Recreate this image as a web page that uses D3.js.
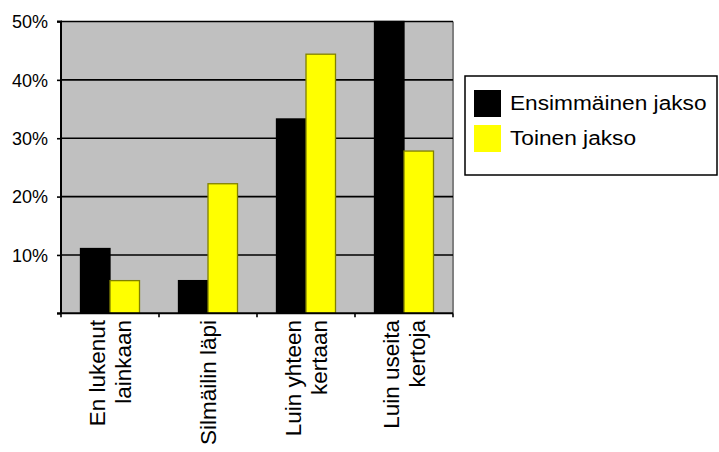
<!DOCTYPE html>
<html><head><meta charset="utf-8">
<script src="https://cdn.jsdelivr.net/npm/d3@7"></script>
<style>body{margin:0;background:#fff}svg{display:block}text{font-family:"Liberation Sans",Arial,sans-serif;fill:#000}</style>
</head><body>
<script>
const categories = [["En lukenut","lainkaan"],["Silmäilin läpi"],["Luin yhteen","kertaan"],["Luin useita","kertoja"]];
const seriesNames = ["Ensimmäinen jakso","Toinen jakso"];
const series1 = [11.1, 5.6, 33.3, 50.0];
const series2 = [5.6, 22.2, 44.4, 27.8];
const yTicks = [10, 20, 30, 40, 50];
const colors = ["#000000","#ffff00"];
const strokes = ["#000000","#808000"];

const W=719,H=452;
const svg=d3.select("body").append("svg").attr("width",W).attr("height",H);
const L=61,R=453,T=21.5,B=313.3;
const x0=d3.scaleBand().domain(d3.range(categories.length)).range([L,R]).padding(0);
const x1=d3.scaleBand().domain([0,1]).range([19.5,x0.bandwidth()-19.5]).padding(0);
const y=d3.scaleLinear().domain([0,50]).range([B,T]);

svg.append("rect").attr("x",L).attr("y",T).attr("width",R-L).attr("height",B-T).attr("fill","#c0c0c0");
svg.append("line").attr("x1",R).attr("x2",R).attr("y1",T).attr("y2",B).attr("stroke","#808080").attr("stroke-width",2);
svg.append("g").selectAll("line").data(yTicks).join("line")
  .attr("x1",L).attr("x2",R).attr("y1",d=>y(d)).attr("y2",d=>y(d))
  .attr("stroke","#000").attr("stroke-width",1.6);

const data=categories.map((c,i)=>[series1[i],series2[i]]);
const g=svg.append("g");
data.forEach((vals,i)=>{
  vals.forEach((v,j)=>{
    g.append("rect").attr("x",x0(i)+x1(j)).attr("y",y(v)).attr("width",x1.bandwidth()).attr("height",B-y(v))
      .attr("fill",colors[j]).attr("stroke",strokes[j]).attr("stroke-width",1.3);
  });
});

const yAxis=d3.axisLeft(y).tickValues([0].concat(yTicks)).tickSize(4).tickFormat(d=>d===0?"":d+"%");
const ya=svg.append("g").attr("transform",`translate(${L},0)`).call(yAxis);
ya.select(".domain").attr("stroke","#000").attr("stroke-width",2).attr("d",`M-4,${T}H0V${B}`);
ya.selectAll(".tick line").attr("stroke","#000").attr("stroke-width",1.6);
ya.selectAll(".tick text").attr("font-size",18).attr("x",-13).attr("dy","0.35em").style("font-family",'"Liberation Sans",Arial,sans-serif').attr("fill","#000");

const xa=svg.append("g").attr("transform",`translate(0,${B})`);
xa.append("line").attr("x1",L-4).attr("x2",R).attr("y1",0).attr("y2",0).attr("stroke","#000").attr("stroke-width",2);
xa.selectAll(".tk").data(d3.range(categories.length+1)).join("line")
  .attr("x1",i=>L+i*x0.step()).attr("x2",i=>L+i*x0.step()).attr("y1",0).attr("y2",4)
  .attr("stroke","#000").attr("stroke-width",1.6);
categories.forEach((lines,i)=>{
  const cx=x0(i)+x0.bandwidth()/2;
  const n=lines.length;
  lines.forEach((t,k)=>{
    const lx=cx+(k-(n-1)/2)*26.5;
    svg.append("text").attr("transform",`translate(${lx+8},320) rotate(-90)`)
      .attr("text-anchor","end").attr("font-size",22.5).text(t);
  });
});

const lg=svg.append("g");
lg.append("rect").attr("x",465).attr("y",76).attr("width",252).attr("height",99).attr("fill","#fff").attr("stroke","#000").attr("stroke-width",1.5);
seriesNames.forEach((s,j)=>{
  const yy=90+j*35;
  lg.append("rect").attr("x",474).attr("y",yy).attr("width",27).attr("height",27).attr("fill",colors[j]);
  lg.append("text").attr("transform",`translate(510,${yy+20}) scale(1.08,1)`).attr("font-size",21).text(s);
});
</script>
</body></html>
